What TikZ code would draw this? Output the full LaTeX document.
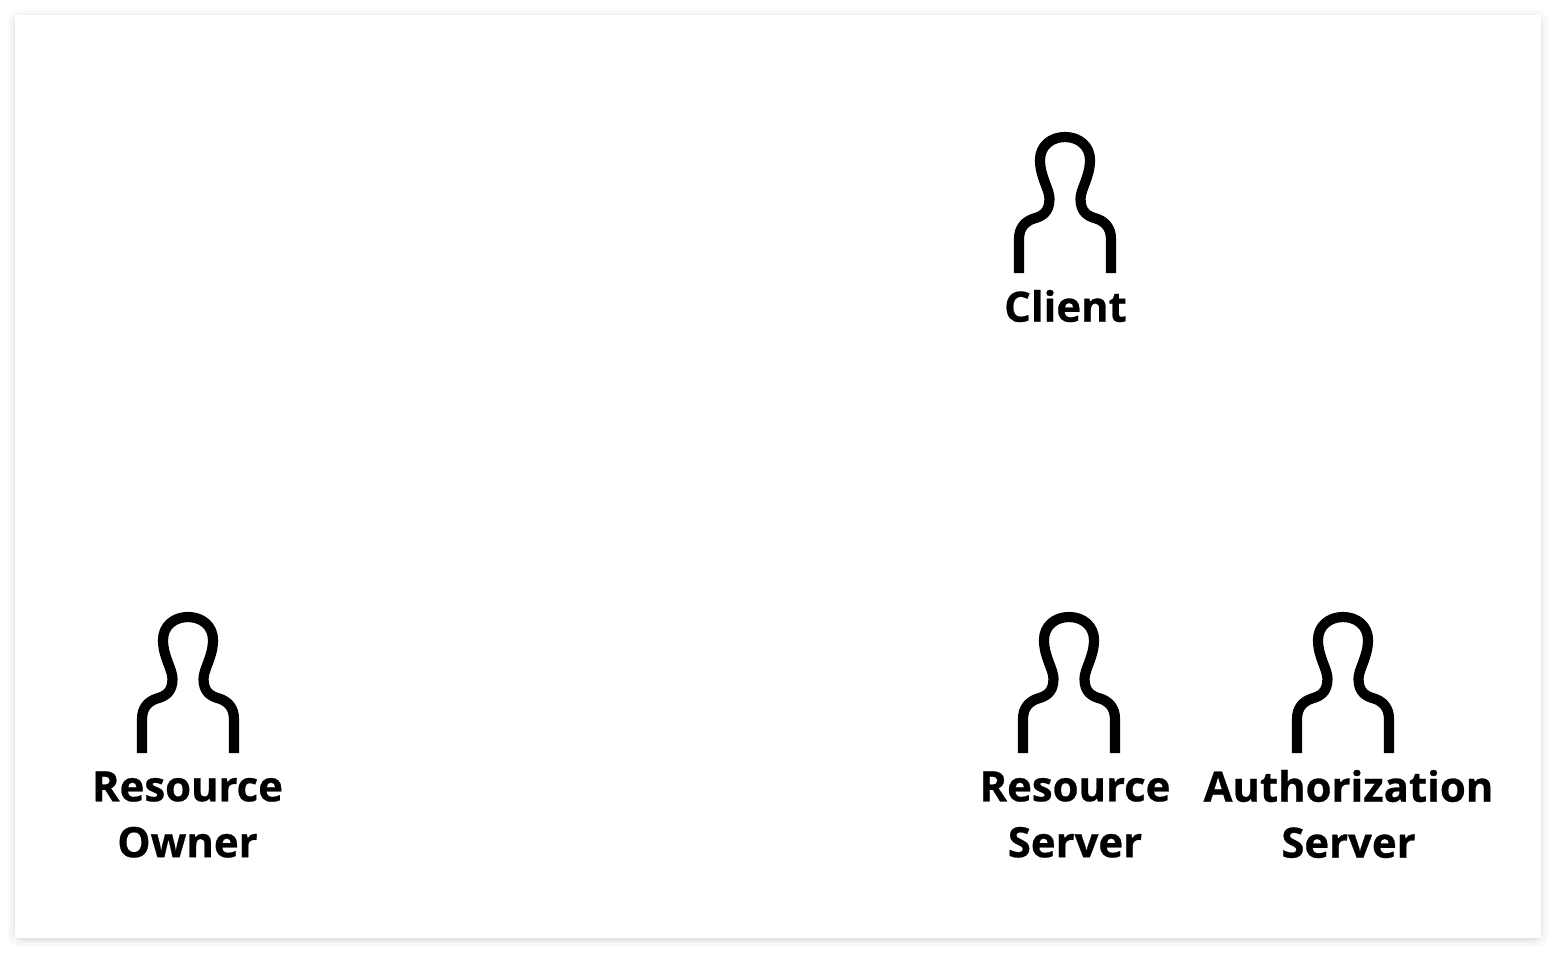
\documentclass[tikz,border=0pt]{standalone}
\usepackage{fontspec}
\setmainfont{Open Sans}[BoldFeatures={FakeBold=0.6}]
\usetikzlibrary{positioning}

\begin{document}
\begin{tikzpicture}[
    x=0.01cm, y=-0.01cm,
    card/.style={draw=none, fill=white},
    label/.style={inner sep=0pt, align=center, font=\fontsize{11.9}{15.9}\selectfont\bfseries},
    person/.pic={
        \draw[line width=2.9pt, line join=round]
            (-46,136) -- (-46,102)
            .. controls (-46,90) and (-39,84) .. (-31,81.5)
            .. controls (-24,79.5) and (-15.5,76) .. (-15.5,62)
            .. controls (-15.5,52) and (-25,40) .. (-25,23)
            .. controls (-25,9) and (-14,0) .. (0,0)
            .. controls (14,0) and (25,9) .. (25,23)
            .. controls (25,40) and (15.5,52) .. (15.5,62)
            .. controls (15.5,76) and (24,79.5) .. (31,81.5)
            .. controls (39,84) and (46,90) .. (46,102)
            -- (46,136);
    },
]
\useasboundingbox (0,0) rectangle (1556,954);

% Page shadow
\foreach \d/\shade in {7/2, 5/3, 3/5, 1/10} {
    \fill[black!\shade, rounded corners=3] (15-\d,15-\d+2) rectangle (1541+\d,938+\d+2);
}
\node[card, minimum width=15.26cm, minimum height=9.23cm, inner sep=0pt] (page) at (778,476.5) {};

% People
\pic (client) at (1065,137) {person};
\pic (owner) at (188,617) {person};
\pic (resource) at (1069,617) {person};
\pic (auth) at (1343,617) {person};

% Labels
\node[label] (clientlabel) at (1065.5,306) {Client};
\node[label] (ownerlabel) at (187.5,814.5) {Resource\\Owner};
\node[label] (resourcelabel) at (1075,814.5) {Resource\\Server};
\node[label] (authlabel) at (1348.5,814) {Authorization\\Server};

\end{tikzpicture}
\end{document}
